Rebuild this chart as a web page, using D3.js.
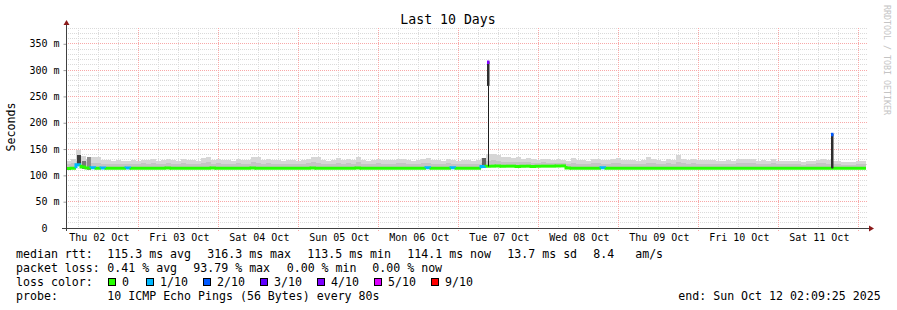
<!DOCTYPE html>
<html>
<head>
<meta charset="utf-8">
<script src="https://cdn.jsdelivr.net/npm/d3@7"></script>
<style>
  body { margin: 0; background: #fff; }
  text { font-family: "DejaVu Sans Mono", monospace; white-space: pre; }
</style>
</head>
<body>
<script>
// 10 days, one bucket every 1.5 h -> 160 buckets
const startTime = new Date(2025, 9, 2, 2, 9, 25)
const endTime = new Date(2025, 9, 12, 2, 9, 25)
const bucketHours = 1.5

// median rtt per bucket (ms)
const medianRtt = [
  113, 113.5, 120, 116, 114, 114.5, 113.5, 114, 113.5, 113.5, 113.5, 113.5, 114, 113.5, 113.5, 113.5,
  113.5, 113.5, 113.5, 113.5, 114, 113.5, 113.5, 113.5, 113.5, 113.5, 113.5, 113.5, 113.5, 114, 113.5, 113.5,
  113.5, 113.5, 113.5, 113.5, 113.5, 114, 113.5, 113.5, 113.5, 113.5, 113.5, 113.5, 113.5, 113.5, 113.5, 113.5,
  113.5, 114, 113.5, 113.5, 113.5, 113.5, 113.5, 113.5, 113.5, 113.5, 114, 113.5, 113.5, 113.5, 113.5, 113.5,
  113.5, 113.5, 113.5, 113.5, 113.5, 113.5, 113.5, 113.5, 114.5, 113.5, 113.5, 113.5, 113.5, 114.5, 113.5, 113.5,
  113.5, 113.5, 113.5, 117, 117.5, 117.5, 118, 117.5, 117.5, 117.5, 117, 117.5, 117.5, 117, 117.5, 117.5,
  117.5, 117.5, 118, 118, 114, 113.5, 113.5, 113.5, 113.5, 113.5, 113.5, 114.5, 113.5, 113.5, 113.5, 113.5,
  113.5, 113.5, 113.5, 113.5, 113.5, 113.5, 113.5, 113.5, 113.5, 113.5, 113.5, 113.5, 113.5, 113.5, 113.5, 113.5,
  113.5, 113.5, 113.5, 113.5, 113.5, 113.5, 113.5, 113.5, 113.5, 113.5, 113.5, 113.5, 113.5, 113.5, 113.5, 113.5,
  113.5, 113.5, 113.5, 113.5, 113.5, 113.5, 113.5, 113.5, 113.5, 113.5, 113.5, 113.5, 113.5, 113.5, 113.5, 113.5
]

// highest ping per bucket (ms)
const smokeMax = [
  128, 131, 148, 137, 131, 134, 135, 130, 129, 128, 130, 128, 127, 129, 128, 130,
  129, 131, 128, 130, 132, 129, 128, 131, 130, 129, 128, 133, 135, 130, 131, 129,
  129, 128, 131, 130, 129, 135, 134, 130, 131, 129, 130, 128, 130, 129, 128, 130,
  131, 135, 134, 129, 128, 130, 133, 129, 132, 130, 135, 129, 128, 130, 131, 129,
  130, 129, 132, 131, 129, 128, 130, 131, 133, 129, 130, 128, 131, 129, 128, 130,
  129, 128, 130, 133, 140, 141, 139, 135, 134, 133, 135, 132, 133, 131, 130, 132,
  131, 130, 131, 129, 128, 133, 130, 129, 128, 131, 132, 130, 129, 131, 133, 130,
  129, 130, 128, 129, 134, 131, 130, 128, 131, 129, 138, 131, 130, 132, 129, 130,
  129, 130, 128, 127, 129, 128, 131, 132, 131, 132, 128, 130, 127, 131, 128, 127,
  127, 128, 127, 126, 128, 127, 130, 131, 129, 128, 127, 126, 125, 126, 128, 127
]

// upper edge of the dense part of the smoke (ms)
const smokeInner = [
  122, 123, 128, 126, 125, 124, 123, 122, 122, 121, 122, 122, 121, 122, 122, 123,
  122, 123, 122, 122, 124, 122, 121, 123, 122, 122, 121, 124, 125, 122, 123, 122,
  122, 121, 123, 122, 122, 125, 124, 122, 123, 122, 122, 121, 122, 122, 121, 122,
  123, 125, 124, 122, 121, 122, 124, 122, 123, 122, 125, 122, 121, 122, 123, 122,
  122, 122, 123, 123, 122, 121, 122, 123, 124, 122, 122, 121, 123, 122, 121, 122,
  122, 121, 122, 124, 128, 129, 128, 126, 126, 125, 126, 125, 125, 124, 124, 125,
  124, 124, 124, 123, 122, 124, 122, 122, 121, 123, 123, 122, 122, 123, 124, 122,
  122, 122, 121, 122, 124, 123, 122, 121, 123, 122, 125, 123, 122, 123, 122, 122,
  122, 122, 121, 121, 122, 121, 123, 123, 123, 123, 121, 122, 121, 123, 121, 121,
  121, 122, 121, 120, 121, 121, 123, 123, 122, 122, 121, 120, 120, 120, 121, 121
]

// buckets with packet loss (pings lost out of 10)
const lossBuckets = [2, 5, 7, 12, 72, 77, 83, 107]
const lossValues = [1, 1, 1, 1, 1, 1, 1, 1]

// buckets with widely spread pings
const spreadBuckets = [2, 3, 4, 83]
const spreadTop = [138, 127, 134, 133]
const spreadPings = [7, 4, 3, 5]

// single outliers
const spikeTimes = [new Date(2025, 9, 7, 9, 3), new Date(2025, 9, 11, 16, 15)]
const spikeBase = [117, 113.5]
const spikeCore = [270, 113.5]
const spikePeak = [316.3, 179]
const spikeLoss = [4, 2]

const yTicks = [0, 50, 100, 150, 200, 250, 300, 350]
const yTickLabels = ["0  ", "50 m", "100 m", "150 m", "200 m", "250 m", "300 m", "350 m"]
const xTickLabels = ["Thu 02 Oct", "Fri 03 Oct", "Sat 04 Oct", "Sun 05 Oct", "Mon 06 Oct",
  "Tue 07 Oct", "Wed 08 Oct", "Thu 09 Oct", "Fri 10 Oct", "Sat 11 Oct"]

const lossLegendCounts = [0, 1, 2, 3, 4, 5, 9]
const lossLegendLabels = ["0", "1/10", "2/10", "3/10", "4/10", "5/10", "9/10"]

const lossColor = d3.scaleOrdinal()
  .domain(lossLegendCounts)
  .range(["#26ff00", "#00b8ff", "#0059ff", "#5e00ff", "#7e00ff", "#dd00ff", "#ff0000"])
const spreadColor = d3.scaleLinear().domain([0, 10]).range(["#c8c8c8", "#000000"])

const W = 897, H = 310
const plotL = 66, plotR = 866, plotT = 28, plotB = 228

const x = d3.scaleTime().domain([startTime, endTime]).range([plotL, plotR])
const y = d3.scaleLinear().domain([0, 380]).range([plotB, plotT])
const px = v => Math.floor(v) + 0.5

const svg = d3.select("body").append("svg")
  .attr("width", W)
  .attr("height", H)

svg.append("rect").attr("width", W).attr("height", H).attr("fill", "#fff")

// grid
const minorGrid = "#dadada", majorGrid = "#f8a8a8"
const grid = svg.append("g")
d3.range(10, 381, 10).filter(v => v % 50 !== 0).forEach(v => {
  grid.append("line")
    .attr("x1", plotL).attr("x2", plotR + 1)
    .attr("y1", px(y(v))).attr("y2", px(y(v)))
    .attr("stroke", minorGrid).attr("stroke-dasharray", "1,1")
})
d3.timeHour.every(6).range(startTime, endTime)
  .filter(d => d.getHours() !== 0)
  .forEach(d => {
    grid.append("line")
      .attr("x1", px(x(d))).attr("x2", px(x(d)))
      .attr("y1", plotT).attr("y2", plotB)
      .attr("stroke", minorGrid).attr("stroke-dasharray", "1,1")
  })
yTicks.filter(v => v > 0).forEach(v => {
  grid.append("line")
    .attr("x1", plotL).attr("x2", plotR + 1)
    .attr("y1", px(y(v))).attr("y2", px(y(v)))
    .attr("stroke", majorGrid).attr("stroke-dasharray", "1,1")
})
d3.timeDay.range(startTime, endTime).forEach(d => {
  grid.append("line")
    .attr("x1", px(x(d))).attr("x2", px(x(d)))
    .attr("y1", plotT).attr("y2", plotB + 3)
    .attr("stroke", majorGrid).attr("stroke-dasharray", "1,1")
})

// buckets
const buckets = medianRtt.map((m, i) => ({
  t0: d3.timeMinute.offset(startTime, i * bucketHours * 60),
  t1: d3.timeMinute.offset(startTime, (i + 1) * bucketHours * 60),
  med: m,
  hi: smokeMax[i],
  inner: smokeInner[i],
  loss: lossBuckets.includes(i) ? lossValues[lossBuckets.indexOf(i)] : 0
}))

// smoke
svg.append("g").selectAll("rect")
  .data(buckets)
  .join("rect")
  .attr("x", d => Math.round(x(d.t0)))
  .attr("width", d => Math.round(x(d.t1)) - Math.round(x(d.t0)))
  .attr("y", d => Math.round(y(d.hi)))
  .attr("height", d => Math.round(y(d.med)) - Math.round(y(d.hi)))
  .attr("fill", "#d6d6d6")

svg.append("g").selectAll("rect")
  .data(buckets)
  .join("rect")
  .attr("x", d => Math.round(x(d.t0)))
  .attr("width", d => Math.round(x(d.t1)) - Math.round(x(d.t0)))
  .attr("y", d => Math.round(y(d.inner)))
  .attr("height", d => Math.round(y(d.med)) - Math.round(y(d.inner)))
  .attr("fill", "#c4c4c4")

svg.append("g").selectAll("rect")
  .data(spreadBuckets)
  .join("rect")
  .attr("x", d => Math.round(x(buckets[d].t0)) + 1)
  .attr("width", d => Math.round(x(buckets[d].t1)) - Math.round(x(buckets[d].t0)) - 1)
  .attr("y", (d, i) => Math.round(y(spreadTop[i])))
  .attr("height", (d, i) => Math.round(y(buckets[d].med - 3)) - Math.round(y(spreadTop[i])))
  .attr("fill", (d, i) => spreadColor(spreadPings[i]))

// median line, coloured by loss
svg.append("g").selectAll("path")
  .data(buckets)
  .join("path")
  .attr("d", (d, i) => {
    const prev = i > 0 ? buckets[i - 1].med : d.med
    return "M" + Math.round(x(d.t0)) + "," + y(prev) +
      "V" + y(d.med) + "H" + Math.round(x(d.t1))
  })
  .attr("fill", "none")
  .attr("stroke", d => lossColor(d.loss))
  .attr("stroke-width", 3)

// outliers
const spikes = svg.append("g")
spikeTimes.forEach((t, i) => {
  const sx = Math.floor(x(t))
  spikes.append("line")
    .attr("x1", sx + 0.5).attr("x2", sx + 0.5)
    .attr("y1", y(spikeBase[i])).attr("y2", y(spikePeak[i]))
    .attr("stroke", "#1e1e1e")
  spikes.append("rect")
    .attr("x", sx - 1).attr("width", 2.5)
    .attr("y", y(spikePeak[i]))
    .attr("height", y(spikeCore[i]) - y(spikePeak[i]))
    .attr("fill", "#2e2e2e")
  spikes.append("rect")
    .attr("x", sx - 1).attr("width", 2.5)
    .attr("y", y(spikePeak[i]) - 1)
    .attr("height", 3.5)
    .attr("fill", lossColor(spikeLoss[i]))
})

// axes
const yAxis = svg.append("g")
  .attr("transform", "translate(" + (plotL + 0.5) + ",0)")
  .call(d3.axisLeft(y).tickValues(yTicks).tickSize(3).tickPadding(4)
    .tickFormat((d, i) => yTickLabels[i]))
yAxis.select(".domain").remove()
yAxis.selectAll(".tick line").attr("stroke", "#999")
yAxis.selectAll("text")
  .attr("font-size", 10)
  .attr("font-family", "DejaVu Sans Mono")
  .attr("fill", "#000")

const noons = d3.timeDay.range(d3.timeDay.floor(startTime), endTime).map(d => d3.timeHour.offset(d, 12))
const xAxis = svg.append("g")
  .attr("transform", "translate(0," + plotB + ")")
  .call(d3.axisBottom(x).tickValues(noons).tickSize(0).tickPadding(6)
    .tickFormat((d, i) => xTickLabels[i]))
xAxis.select(".domain").remove()
xAxis.selectAll("text")
  .attr("font-size", 10)
  .attr("font-family", "DejaVu Sans Mono")
  .attr("fill", "#000")

svg.append("line")
  .attr("x1", plotL - 4).attr("x2", plotR + 4)
  .attr("y1", plotB + 0.5).attr("y2", plotB + 0.5)
  .attr("stroke", "#404040")
svg.append("line")
  .attr("x1", plotL + 0.5).attr("x2", plotL + 0.5)
  .attr("y1", plotB + 3).attr("y2", plotT - 4)
  .attr("stroke", "#404040")
svg.append("path")
  .attr("d", "M" + (plotR + 3) + "," + (plotB - 2.5) + "L" + (plotR + 8) + "," + (plotB + 0.5) +
    "L" + (plotR + 3) + "," + (plotB + 3.5) + "Z")
  .attr("fill", "#8b1a1a")
svg.append("path")
  .attr("d", "M" + (plotL - 2.5) + "," + (plotT - 3) + "L" + (plotL + 0.5) + "," + (plotT - 8) +
    "L" + (plotL + 3.5) + "," + (plotT - 3) + "Z")
  .attr("fill", "#8b1a1a")

// titles
svg.append("text")
  .attr("x", 448).attr("y", 24)
  .attr("text-anchor", "middle")
  .attr("font-size", 13.2)
  .text("Last 10 Days")

svg.append("text")
  .attr("transform", "translate(15,127) rotate(-90)")
  .attr("text-anchor", "middle")
  .attr("font-size", 11.6)
  .text("Seconds")

svg.append("text")
  .attr("transform", "translate(884,5) rotate(90)")
  .attr("font-size", 8.3)
  .attr("fill", "#c4c4c4")
  .text("RRDTOOL / TOBI OETIKER")

// legend
function chunk(xp, yp, s) {
  svg.append("text")
    .attr("x", xp).attr("y", yp)
    .attr("font-size", 11.6)
    .text(s)
}
chunk(16, 258, "median rtt:")
chunk(107.3, 258, "115.3 ms avg")
chunk(207.3, 258, "316.3 ms max")
chunk(307.3, 258, "113.5 ms min")
chunk(407.3, 258, "114.1 ms now")
chunk(507.3, 258, "13.7 ms sd")
chunk(593.3, 258, "8.4   am/s")

chunk(16, 272, "packet loss:")
chunk(107.3, 272, "0.41 % avg")
chunk(193.3, 272, "93.79 % max")
chunk(286.7, 272, "0.00 % min")
chunk(372.3, 272, "0.00 % now")

chunk(16, 286, "loss color:")
lossLegendCounts.forEach((c, i) => {
  const lx = i === 0 ? 108 : 146 + (i - 1) * 57
  svg.append("rect")
    .attr("x", lx + 0.5).attr("y", 278.5)
    .attr("width", 7).attr("height", 7)
    .attr("fill", lossColor(c))
    .attr("stroke", "#000")
  chunk(lx + 14, 286, lossLegendLabels[i])
})

chunk(16, 300, "probe:")
chunk(107.3, 300, "10 ICMP Echo Pings (56 Bytes) every 80s")
chunk(678.3, 300, "end: Sun Oct 12 02:09:25 2025")
</script>
</body>
</html>
